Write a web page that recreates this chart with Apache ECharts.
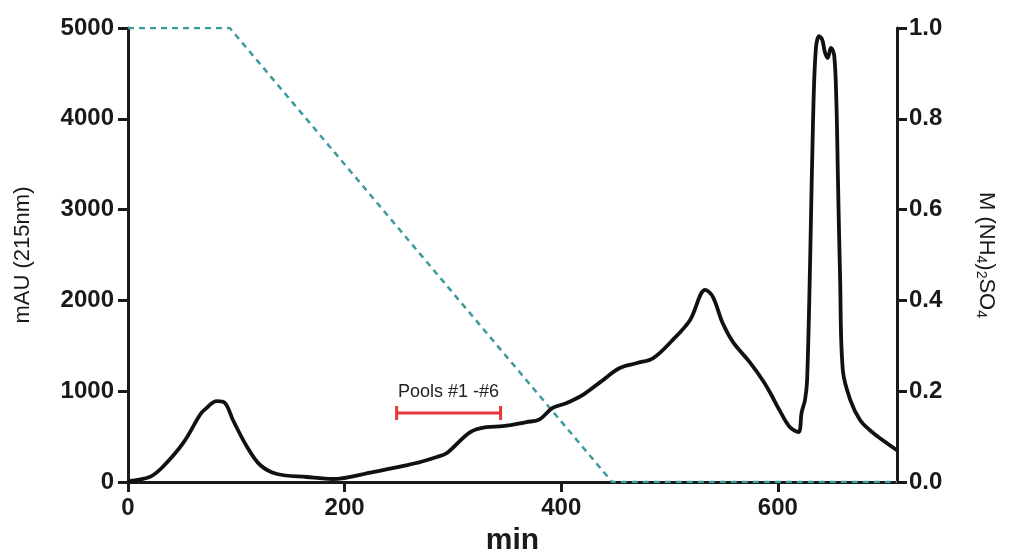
<!DOCTYPE html>
<html>
<head>
<meta charset="utf-8">
<script src="https://cdn.jsdelivr.net/npm/echarts@6/dist/echarts.min.js"></script>
<style>html,body{margin:0;padding:0;background:#fff}#c{width:1017px;height:553px}</style>
</head>
<body>
<div id="c"></div>
<script>
// Chromatogram (mAU at 215 nm) vs time (min)
const timeMin = [0,20,32,51,66.5,71,82,89.5,97,110,122,137.6,165,189,226,258,270,285,294.5,316,331,346,368,380,392,405,420,436,454,470,485,503,519,533,540,549,558.6,574,586,593,602,611,619,622,625,627,630,632.5,635,638,641,643.5,646,649,652,654,655.5,657.5,660,667,676,685,694,710];
const mAU = [10,55,165,430,740,800,890,870,680,385,187,88,55,33,110,187,220,275,320,550,605,615,660,690,815,870,960,1100,1255,1310,1365,1565,1785,2115,2040,1750,1540,1320,1120,980,780,605,550,770,900,1120,2550,3990,4760,4910,4870,4730,4670,4780,4700,4200,3325,2225,1230,900,680,570,485,350];
// Ammonium sulfate gradient (M)
const gradTime = [0,94,447,710];
const gradM = [1.0,1.0,0.0,0.0];
// Pools bar
const poolStart = 248, poolEnd = 344, poolLevel = 760;
const poolLabel = 'Pools #1 -#6';
const xTicks = [0,200,400,600];

const chart = echarts.init(document.getElementById('c'));
const axisCol = '#1a1a1a';
const font = 'Liberation Sans, Arial, sans-serif';
chart.setOption({
  animation:false,
  grid:{left:128,right:120,top:28,bottom:71,containLabel:false,outerBoundsMode:'none'},
  xAxis:{type:'value',min:0,max:710,interval:200,
    name:'min',nameLocation:'middle',nameGap:44,
    nameTextStyle:{fontFamily:font,fontWeight:'bold',fontSize:30,color:axisCol},
    axisLine:{show:true,onZero:false,lineStyle:{color:axisCol,width:3}},
    axisTick:{show:true,length:10,lineStyle:{width:3,color:axisCol}},
    axisLabel:{fontFamily:font,fontWeight:'bold',fontSize:24,color:axisCol,margin:14,
      showMaxLabel:false,formatter:v=>xTicks.includes(v)?String(v):''},
    splitLine:{show:false}},
  yAxis:[
    {type:'value',min:0,max:5000,interval:1000,position:'left',
     name:'mAU (215nm)',nameLocation:'middle',nameRotate:90,nameGap:94,
     nameTextStyle:{fontFamily:font,fontSize:22,color:axisCol},
     axisLine:{show:true,lineStyle:{color:axisCol,width:3}},
     axisTick:{show:true,length:10,lineStyle:{width:3,color:axisCol}},
     axisLabel:{fontFamily:font,fontWeight:'bold',fontSize:24,color:axisCol,margin:14,formatter:v=>String(v)},
     splitLine:{show:false}},
    {type:'value',min:0,max:1,interval:0.2,position:'right',
     name:'{n|M (NH}{s|4}{n|)}{s|2}{n|SO}{s|4}',nameLocation:'middle',nameRotate:-90,nameGap:76,
     nameTextStyle:{fontFamily:font,color:axisCol,
       rich:{n:{fontFamily:font,fontSize:22,color:axisCol,lineHeight:26},
             s:{fontFamily:font,fontSize:14,color:axisCol,lineHeight:26,padding:[10,0,0,0]}}},
     axisLine:{show:true,lineStyle:{color:axisCol,width:3}},
     axisTick:{show:true,length:10,lineStyle:{width:3,color:axisCol}},
     axisLabel:{fontFamily:font,fontWeight:'bold',fontSize:24,color:axisCol,margin:12,formatter:v=>v.toFixed(1)},
     splitLine:{show:false}}
  ],
  series:[
    {type:'line',yAxisIndex:1,data:gradTime.map((t,i)=>[t,gradM[i]]),showSymbol:false,
     lineStyle:{color:'#3a9a9c',width:2.5,type:[6,5]},z:2},
    {type:'line',yAxisIndex:0,data:timeMin.map((t,i)=>[t,mAU[i]]),showSymbol:false,smooth:0.35,
     lineStyle:{color:'#111',width:3.8},z:3},
    {type:'custom',yAxisIndex:0,data:[[poolStart,poolEnd,poolLevel]],encode:{x:[0,1],y:2},z:4,
     renderItem:(params,api)=>{
       const a=api.coord([api.value(0),api.value(2)]);
       const b=api.coord([api.value(1),api.value(2)]);
       const st={stroke:'#e8383a',lineWidth:3};
       return {type:'group',children:[
         {type:'line',shape:{x1:a[0],y1:a[1],x2:b[0],y2:b[1]},style:st},
         {type:'line',shape:{x1:a[0],y1:a[1]-7,x2:a[0],y2:a[1]+7},style:st},
         {type:'line',shape:{x1:b[0],y1:b[1]-7,x2:b[0],y2:b[1]+7},style:st},
         {type:'text',x:(a[0]+b[0])/2,y:a[1]-12,style:{text:poolLabel,fill:'#222',font:'18px '+font,align:'center',verticalAlign:'bottom'}}
       ]};
     }}
  ]
});
</script>
</body>
</html>
